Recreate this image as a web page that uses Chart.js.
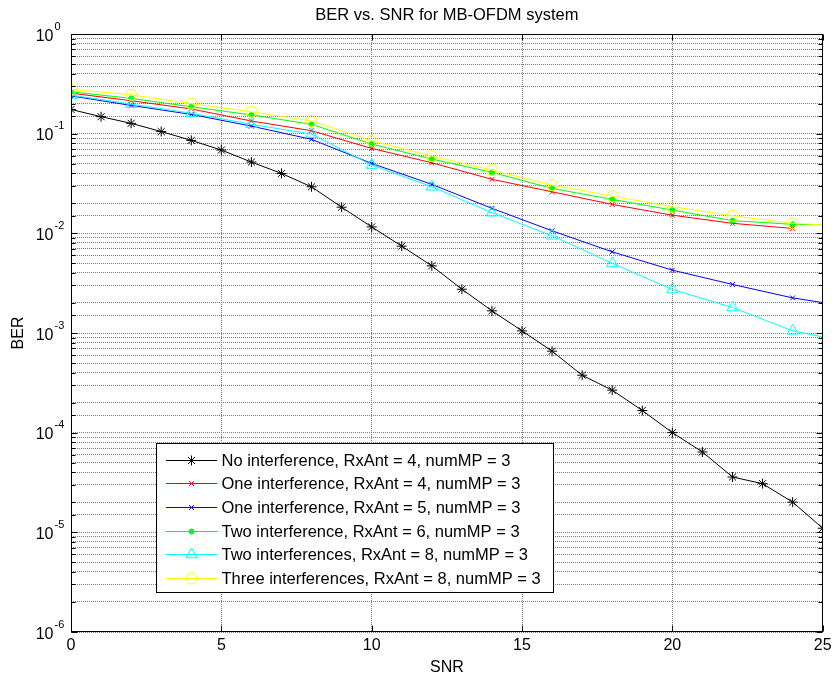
<!DOCTYPE html>
<html>
<head>
<meta charset="utf-8">
<title>BER vs. SNR for MB-OFDM system</title>
<script src="https://cdn.jsdelivr.net/npm/chart.js@4.4.0/dist/chart.umd.min.js"></script>
<style>
  html, body { margin: 0; padding: 0; background: #fff; }
  #wrap { width: 836px; height: 679px; }
</style>
</head>
<body>
<div id="wrap"><canvas id="berChart" width="836" height="679"></canvas></div>
<script>
// SNR points (dB)
const snrAll = [0, 1, 2, 3, 4, 5, 6, 7, 8, 9, 10, 11, 12, 13, 14, 15, 16, 17, 18, 19, 20, 21, 22, 23, 24, 25];
const snrEven = [0, 2, 4, 6, 8, 10, 12, 14, 16, 18, 20, 22, 24];
const snrEvenEnd = [0, 2, 4, 6, 8, 10, 12, 14, 16, 18, 20, 22, 24, 25];

// BER values
const berNoInterf = [0.175, 0.148, 0.127, 0.105, 0.0857, 0.0685, 0.0519, 0.0399, 0.0293, 0.0183,
  0.0116, 0.00744, 0.00472, 0.00275, 0.00167, 0.00105, 0.000657, 0.000377, 0.000267, 0.000167,
  0.0001, 0.000064, 0.0000359, 0.0000308, 0.0000201, 0.000011];
const berOneRx4 = [0.255, 0.214, 0.177, 0.134, 0.107, 0.0711, 0.051, 0.0348, 0.0261, 0.0195, 0.0152, 0.0126, 0.0112];
const berOneRx5 = [0.239, 0.192, 0.156, 0.119, 0.0877, 0.0503, 0.031, 0.0178, 0.0106, 0.00652, 0.00427, 0.00307, 0.00225, 0.00202];
const berTwoRx6 = [0.263, 0.226, 0.186, 0.154, 0.124, 0.0786, 0.0556, 0.0409, 0.0282, 0.0219, 0.0171, 0.0134, 0.0123, 0.0122];
const berTwoRx8 = [0.244, 0.198, 0.160, 0.124, 0.099, 0.0484, 0.0293, 0.0161, 0.00944, 0.00499, 0.00273, 0.0018, 0.00105, 0.000914];
const berThreeRx8 = [0.278, 0.246, 0.2, 0.166, 0.134, 0.0849, 0.0596, 0.0431, 0.0305, 0.0236, 0.0185, 0.015, 0.0126, 0.0122];

const seriesLabels = [
  'No interference, RxAnt = 4, numMP = 3',
  'One interference, RxAnt = 4, numMP = 3',
  'One interference, RxAnt = 5, numMP = 3',
  'Two interference, RxAnt = 6, numMP = 3',
  'Two interferences, RxAnt = 8, numMP = 3',
  'Three interferences, RxAnt = 8, numMP = 3'
];

const yDecades = [1, 0.1, 0.01, 0.001, 0.0001, 0.00001, 0.000001];
const FONT = "'Liberation Sans', Arial, Helvetica, sans-serif";

Chart.defaults.font.family = FONT;
Chart.defaults.color = '#000';

function pts(xs, ys) {
  return ys.map((v, i) => ({ x: xs[i], y: v }));
}

// markers only on the even points, the last (25 dB) point is line only
function radii(xs, r) {
  return xs.map(v => (v === 25 && xs.length === snrEvenEnd.length) ? 0 : r);
}

function makeSet(label, xs, ys, color, style, r, fill, order) {
  return {
    label: label,
    data: pts(xs, ys),
    borderColor: color,
    backgroundColor: fill,
    borderWidth: 1,
    pointStyle: style,
    pointRadius: radii(xs, r),
    pointBorderWidth: 1,
    pointBorderColor: color,
    pointBackgroundColor: fill,
    pointHoverRadius: r,
    tension: 0,
    order: order,
    legendRadius: r
  };
}

const datasets = [
  makeSet(seriesLabels[0], snrAll, berNoInterf, '#000000', 'star', 5, 'rgba(0,0,0,0)', 6),
  makeSet(seriesLabels[1], snrEven, berOneRx4, '#ff0000', 'crossRot', 3.5, 'rgba(0,0,0,0)', 5),
  makeSet(seriesLabels[2], snrEvenEnd, berOneRx5, '#0000ff', 'crossRot', 3.5, 'rgba(0,0,0,0)', 4),
  makeSet(seriesLabels[3], snrEvenEnd, berTwoRx6, '#00ff00', 'circle', 2.5, '#00ff00', 3),
  makeSet(seriesLabels[4], snrEvenEnd, berTwoRx8, '#00ffff', 'triangle', 6.5, 'rgba(0,0,0,0)', 2),
  makeSet(seriesLabels[5], snrEvenEnd, berThreeRx8, '#ffff00', 'circle', 5.5, 'rgba(0,0,0,0)', 1)
];

function isDecade(v) {
  const l = Math.log10(v);
  return Math.abs(l - Math.round(l)) < 1e-9;
}

// box, inner tick marks, 10^n labels and the legend (MATLAB look)
const decorPlugin = {
  id: 'decor',
  afterDraw(chart) {
    const { ctx, chartArea: a, scales } = chart;
    const x = scales.x, y = scales.y;
    const L = Math.round(a.left) + 0.5, R = Math.round(a.right) - 0.5;
    const T = Math.round(a.top) + 0.5, B = Math.round(a.bottom) - 0.5;
    ctx.save();

    // axes box
    ctx.strokeStyle = '#000';
    ctx.lineWidth = 1;
    ctx.strokeRect(L, T, R - L, B - T);

    // tick marks inside the box
    ctx.beginPath();
    y.ticks.forEach(t => {
      if (t.value < 1e-6 || t.value > 1) return;
      const py = Math.round(y.getPixelForValue(t.value)) + 0.5;
      const len = isDecade(t.value) ? 6 : 4;
      ctx.moveTo(L, py); ctx.lineTo(L + len, py);
      ctx.moveTo(R, py); ctx.lineTo(R - len, py);
    });
    x.ticks.forEach(t => {
      const px = Math.round(x.getPixelForValue(t.value)) + 0.5;
      ctx.moveTo(px, B); ctx.lineTo(px, B - 6);
      ctx.moveTo(px, T); ctx.lineTo(px, T + 6);
    });
    ctx.stroke();

    // y tick labels: 10 with superscript exponent
    ctx.fillStyle = '#000';
    ctx.textBaseline = 'alphabetic';
    yDecades.forEach(v => {
      const py = y.getPixelForValue(v);
      const e = Math.round(Math.log10(v));
      ctx.font = '16px ' + FONT;
      ctx.textAlign = 'right';
      ctx.fillText('10', 53.5, py + 6.5);
      ctx.font = '11px ' + FONT;
      ctx.textAlign = 'left';
      ctx.fillText(String(e), 54.5, py - 4.3);
    });

    // legend
    const lx = 156.5, ly = 443.5, lw = 397, lh = 149;
    ctx.fillStyle = '#fff';
    ctx.fillRect(lx, ly, lw, lh);
    ctx.strokeStyle = '#000';
    ctx.lineWidth = 1;
    ctx.strokeRect(lx, ly, lw, lh);
    chart.data.datasets.forEach((ds, i) => {
      const ry = Math.round(ly + 16 + i * 23.7) + 0.5;
      ctx.strokeStyle = ds.borderColor;
      ctx.lineWidth = 1;
      ctx.beginPath();
      ctx.moveTo(166, ry);
      ctx.lineTo(217, ry);
      ctx.stroke();
      ctx.fillStyle = ds.pointBackgroundColor;
      ctx.strokeStyle = ds.borderColor;
      Chart.helpers.drawPoint(ctx, {
        pointStyle: ds.pointStyle,
        radius: ds.legendRadius,
        rotation: 0,
        borderWidth: 1
      }, 191.5, ry);
      ctx.fillStyle = '#000';
      ctx.font = '16.5px ' + FONT;
      ctx.textAlign = 'left';
      ctx.textBaseline = 'middle';
      ctx.fillText(ds.label, 221.5, ry + 0.5);
    });
    ctx.restore();
  }
};

new Chart(document.getElementById('berChart'), {
  type: 'line',
  data: { datasets: datasets },
  options: {
    responsive: false,
    devicePixelRatio: 1,
    animation: false,
    events: [],
    layout: { padding: { top: 0, right: 9, bottom: 0, left: 0 } },
    plugins: {
      legend: { display: false },
      tooltip: { enabled: false },
      title: {
        display: true,
        fullSize: false,
        text: 'BER vs. SNR for MB-OFDM system',
        color: '#000',
        font: { size: 16.5, weight: 'normal', family: FONT },
        padding: { top: 6, bottom: 8.2 }
      }
    },
    scales: {
      x: {
        type: 'linear',
        min: 0,
        max: 25,
        ticks: {
          stepSize: 5,
          padding: 4.4,
          font: { size: 16 },
          color: '#000',
          maxRotation: 0
        },
        grid: { color: '#7c7c7c', drawTicks: false, lineWidth: 1 },
        border: { display: false, dash: [1, 1] },
        title: {
          display: true,
          text: 'SNR',
          font: { size: 16 },
          color: '#000',
          padding: { top: 0, bottom: 1.9 }
        },
        afterFit(scale) { scale.height = 47; }
      },
      y: {
        type: 'logarithmic',
        min: 0.000001,
        max: 1,
        ticks: { display: false, autoSkip: false },
        grid: { color: '#7c7c7c', drawTicks: false, lineWidth: 1 },
        border: { display: false, dash: [1, 1] },
        title: {
          display: true,
          text: 'BER',
          font: { size: 16 },
          color: '#000',
          padding: { top: 9.1, bottom: 0 }
        },
        afterFit(scale) { scale.width = 71; }
      }
    }
  },
  plugins: [decorPlugin]
});
</script>
</body>
</html>
